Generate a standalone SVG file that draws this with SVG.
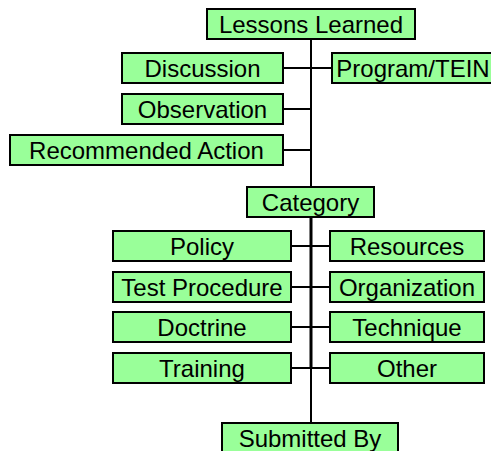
<svg xmlns="http://www.w3.org/2000/svg" width="491" height="451" viewBox="0 0 491 451">
<style>
.b{fill:#99FF99;stroke:#000;stroke-width:2}
.t{font-family:"Liberation Sans",Arial,sans-serif;font-size:24px;fill:#000;text-anchor:middle}
.c{stroke:#000;fill:none;stroke-width:2}
</style>
<rect width="491" height="451" fill="#fff"/>
<g id="connectors">
<line class="c" x1="311" y1="39" x2="311" y2="187"/>
<line class="c" x1="311" y1="217" x2="311" y2="368" style="stroke-width:3"/>
<line class="c" x1="311" y1="368" x2="311" y2="423"/>
<line class="c" x1="283" y1="68" x2="332" y2="68"/>
<line class="c" x1="283" y1="109" x2="311" y2="109"/>
<line class="c" x1="283" y1="150" x2="311" y2="150"/>
<line class="c" x1="291" y1="246" x2="330" y2="246"/>
<line class="c" x1="291" y1="287" x2="330" y2="287"/>
<line class="c" x1="291" y1="327" x2="330" y2="327"/>
<line class="c" x1="291" y1="368" x2="330" y2="368"/>
</g>
<g id="lessons"><rect class="b" x="207" y="9" width="208" height="30"/><text class="t" x="311" y="33">Lessons Learned</text></g>
<g id="discussion"><rect class="b" x="122" y="53" width="161" height="30"/><text class="t" x="202.5" y="77">Discussion</text></g>
<g id="program"><rect class="b" x="332" y="53" width="165" height="30"/><text class="t" x="413" y="77">Program/TEIN</text></g>
<g id="observation"><rect class="b" x="122" y="94" width="161" height="30"/><text class="t" x="202.5" y="118">Observation</text></g>
<g id="recommended"><rect class="b" x="10" y="135" width="273" height="30"/><text class="t" x="146.5" y="159">Recommended Action</text></g>
<g id="category"><rect class="b" x="247" y="187" width="127" height="30"/><text class="t" x="310.5" y="211">Category</text></g>
<g id="policy"><rect class="b" x="113" y="231" width="178" height="30"/><text class="t" x="202" y="255">Policy</text></g>
<g id="resources"><rect class="b" x="330" y="231" width="154" height="30"/><text class="t" x="407" y="255">Resources</text></g>
<g id="testprocedure"><rect class="b" x="113" y="272" width="178" height="30"/><text class="t" x="202" y="296">Test Procedure</text></g>
<g id="organization"><rect class="b" x="330" y="272" width="154" height="30"/><text class="t" x="407" y="296">Organization</text></g>
<g id="doctrine"><rect class="b" x="113" y="312" width="178" height="30"/><text class="t" x="202" y="336">Doctrine</text></g>
<g id="technique"><rect class="b" x="330" y="312" width="154" height="30"/><text class="t" x="407" y="336">Technique</text></g>
<g id="training"><rect class="b" x="113" y="353" width="178" height="30"/><text class="t" x="202" y="377">Training</text></g>
<g id="other"><rect class="b" x="330" y="353" width="154" height="30"/><text class="t" x="407" y="377">Other</text></g>
<g id="submitted"><rect class="b" x="222" y="423" width="176" height="32"/><text class="t" x="310" y="447">Submitted By</text></g>
</svg>
